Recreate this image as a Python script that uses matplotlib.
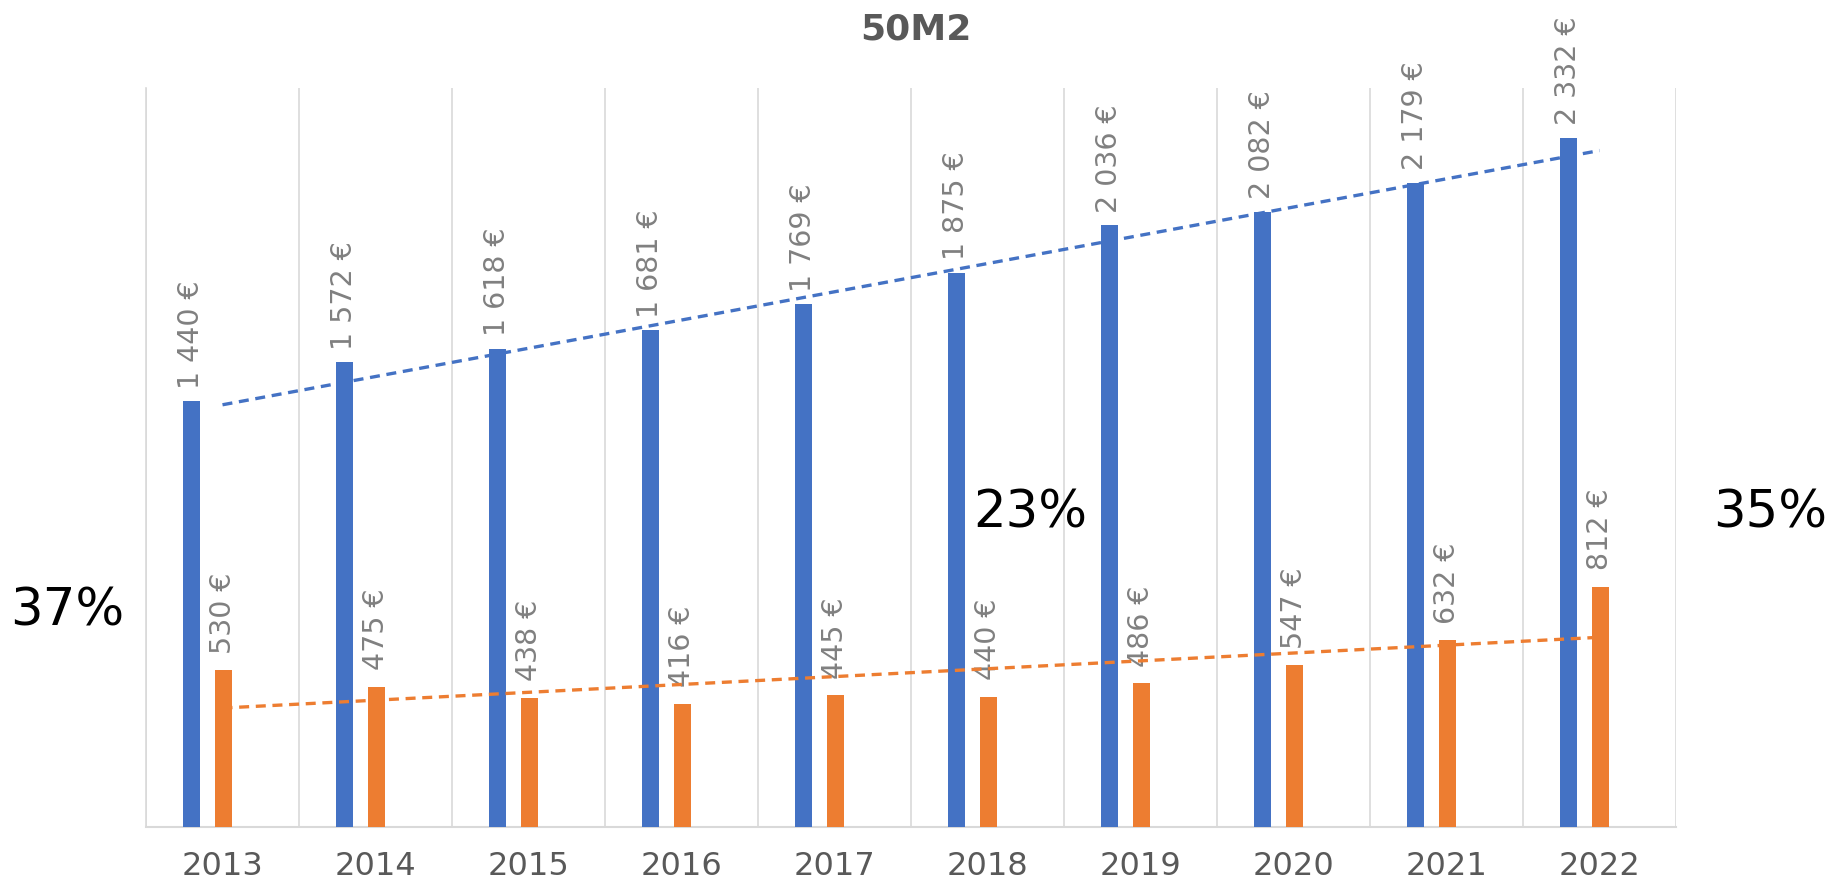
import numpy as np
import matplotlib.pyplot as plt

# data
years = ['2013', '2014', '2015', '2016', '2017', '2018', '2019', '2020', '2021', '2022']
blue_vals = [1440, 1572, 1618, 1681, 1769, 1875, 2036, 2082, 2179, 2332]
orange_vals = [530, 475, 438, 416, 445, 440, 486, 547, 632, 812]
blue_labels = ['1 440 €', '1 572 €', '1 618 €', '1 681 €', '1 769 €',
               '1 875 €', '2 036 €', '2 082 €', '2 179 €', '2 332 €']
orange_labels = ['530 €', '475 €', '438 €', '416 €', '445 €',
                 '440 €', '486 €', '547 €', '632 €', '812 €']
pct_labels = ['37%', '23%', '35%']

BLUE = '#4472C4'
ORANGE = '#ED7D31'
GRID = '#D9D9D9'

fig = plt.figure(figsize=(18.32, 8.90), dpi=100)
ax = fig.add_axes([146 / 1832, 1 - 827 / 890, 1530 / 1832, 739 / 890])

x = np.arange(len(years))
bw = 0.11
ax.bar(x - 0.205, blue_vals, width=bw, color=BLUE, zorder=3)
ax.bar(x + 0.005, orange_vals, width=bw, color=ORANGE, zorder=3)

# value labels
for xi, v, lab in zip(x, blue_vals, blue_labels):
    ax.annotate(lab, (xi - 0.205, v), xytext=(0, 9), textcoords='offset points',
                rotation=90, ha='center', va='bottom', fontsize=20.5,
                color='#808080', annotation_clip=False)
for xi, v, lab in zip(x, orange_vals, orange_labels):
    ax.annotate(lab, (xi + 0.005, v), xytext=(0, 12), textcoords='offset points',
                rotation=90, ha='center', va='bottom', fontsize=20.5,
                color='#808080', annotation_clip=False)

# linear trendlines at category centres
for vals, col in [(blue_vals, BLUE), (orange_vals, ORANGE)]:
    k, b = np.polyfit(x, vals, 1)
    ax.plot(x, k * x + b, color=col, lw=2.4, ls=(0, (3, 2)), zorder=4)

ax.set_xlim(-0.5, len(years) - 0.5)
ax.set_ylim(0, 2500)
ax.set_yticks([])
ax.set_xticks(x)
ax.set_xticklabels(years, fontsize=23, color='#595959')
ax.tick_params(axis='x', length=0, pad=17)

# vertical category gridlines
for gx in np.arange(-0.5, len(years), 1.0):
    ax.axvline(gx, color=GRID, lw=1.2, zorder=1)
for s in ['top', 'right']:
    ax.spines[s].set_visible(False)
ax.spines['left'].set_color(GRID)
ax.spines['bottom'].set_color(GRID)
ax.spines['left'].set_linewidth(1.2)
ax.spines['bottom'].set_linewidth(1.5)

fig.text(916 / 1832, 1 - 30 / 890, '50M2', ha='center', va='center',
         fontsize=26, fontweight='bold', color='#595959')

fig.text(67 / 1832, 1 - 611 / 890, pct_labels[0], ha='center', va='center', fontsize=37)
fig.text(1030 / 1832, 1 - 513 / 890, pct_labels[1], ha='center', va='center', fontsize=37)
fig.text(1770 / 1832, 1 - 513 / 890, pct_labels[2], ha='center', va='center', fontsize=37)

fig.savefig('out.png', dpi=100)
